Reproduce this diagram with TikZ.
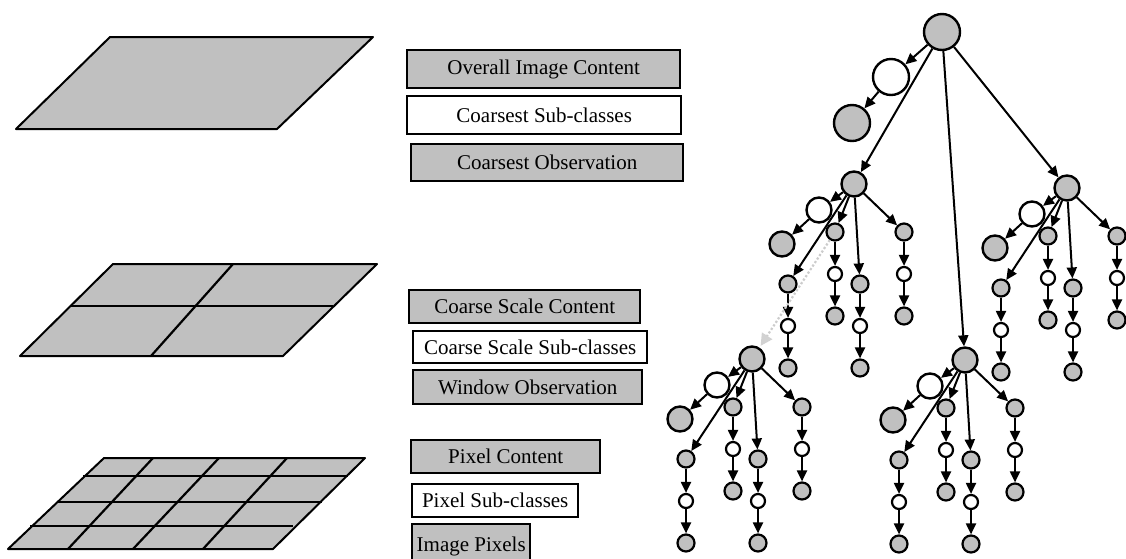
\documentclass[tikz,border=0pt]{standalone}
\usepackage{fontspec}
\setmainfont{Liberation Serif}
\usetikzlibrary{positioning,arrows.meta}
\definecolor{shade}{HTML}{C0C0C0}

\tikzset{
  box/.style={draw, line width=2.4pt, anchor=north west, inner sep=0pt, font=\fontsize{21}{24}\selectfont},
  graybox/.style={box, fill=shade},
  whitebox/.style={box, fill=white},
  plane/.style={draw, line width=2pt, fill=shade, line join=round},
  gridline/.style={line width=2.2pt},
  bigball/.style={circle, draw, line width=2.4pt, minimum size=36pt, inner sep=0pt},
  midball/.style={circle, draw, line width=2.4pt, minimum size=25pt, inner sep=0pt},
  leafball/.style={circle, draw, line width=2.2pt, minimum size=17pt, inner sep=0pt},
  subball/.style={circle, draw, line width=2.2pt, minimum size=14pt, inner sep=0pt},
  arr/.style={-{Triangle[length=11pt,width=10pt]}, line width=2pt},
  dotarr/.style={draw=gray!40, dotted, line width=2.2pt, shorten >=2pt,
    -{Triangle[length=12pt,width=12pt,color=gray!35,fill=gray!35]}},
}

% one sub-tree: head, its white and gray pair, four chains
\newcommand{\branch}[3]{%
  \begin{scope}[shift={(#2,#3)}]
    \node[midball, fill=shade] (#1) at (0,0) {};
    \node[midball, fill=white] (#1w) at (-35,26) {};
    \node[midball, fill=shade] (#1g) at (-72,60) {};
    \path[arr] (#1) edge (#1w) (#1w) edge (#1g);
    \foreach \k/\dx/\dy in {1/-66/100, 2/-19/48, 3/6/100, 4/50/48} {
      \node[leafball, fill=shade] (#1a\k) at (\dx,\dy) {};
      \node[subball, fill=white] (#1b\k) at (\dx,\dy+42) {};
      \node[leafball, fill=shade] (#1c\k) at (\dx,\dy+84) {};
      \path[arr] (#1) edge (#1a\k) (#1a\k) edge (#1b\k) (#1b\k) edge (#1c\k);
    }
  \end{scope}}

\begin{document}
\begin{tikzpicture}[x=1pt, y=-1pt]

    \useasboundingbox (0,0) rectangle (1126,558);

    % image planes
    \path[plane] (16,129) -- (277,129) -- (373,37) -- (110,37) -- cycle;

    \path[plane] (20,356) -- (283,356) -- (377,264) -- (113,264) -- cycle;
    \draw[gridline] (71,306) -- (333,306);
    \draw[gridline] (233,264) -- (151,356);

    \path[plane] (8,549) -- (273,549) -- (365,458) -- (104,458) -- cycle;
    \foreach \y/\xa/\xb in {476/83/348, 502/58/322, 526/30/293}
      \draw[gridline] (\xa,\y) -- (\xb,\y);
    \foreach \xa/\xb in {153/68, 219/133, 287/203}
      \draw[gridline] (\xa,458) -- (\xb,549);

    % labels
    \node[graybox, minimum width=273pt, minimum height=38pt] (overall) at (406,49) {Overall Image Content};
    \node[whitebox, minimum width=274pt, minimum height=38pt] (coarsestsub) at (406,95) {Coarsest Sub-classes};
    \node[graybox, minimum width=272pt, minimum height=37pt] (coarsestobs) at (410,143) {Coarsest Observation};

    \node[graybox, minimum width=231pt, minimum height=33pt] (coarse) at (408,289) {Coarse Scale Content};
    \node[whitebox, minimum width=234pt, minimum height=32pt] (coarsesub) at (412,330) {Coarse Scale Sub-classes};
    \node[graybox, minimum width=229pt, minimum height=34pt] (window) at (412,369) {Window Observation};

    \node[graybox, minimum width=189pt, minimum height=33pt] (pixel) at (410,439) {Pixel Content};
    \node[whitebox, minimum width=166pt, minimum height=33pt] (pixelsub) at (411,483) {Pixel Sub-classes};
    \node[graybox, minimum width=118pt, minimum height=44pt] (pixels) at (411,523) {Image Pixels};

    % tree
    \node[bigball, fill=shade] (root) at (942,32) {};
    \node[bigball, fill=white] (rootw) at (891,77) {};
    \node[bigball, fill=shade] (rootg) at (852,123) {};

    \branch{A}{854}{184}
    \branch{B}{965}{360}
    \branch{C}{1067}{188}
    \branch{D}{752}{359}

    \path[arr] (root) edge (rootw);
    \path[arr] (rootw) edge (rootg);
    \path[arr] (root) edge (A);
    \path[arr] (root) edge (B);
    \path[arr] (root) edge (C);

    \draw[dotarr] (Aa2) -- (D);

\end{tikzpicture}
\end{document}
